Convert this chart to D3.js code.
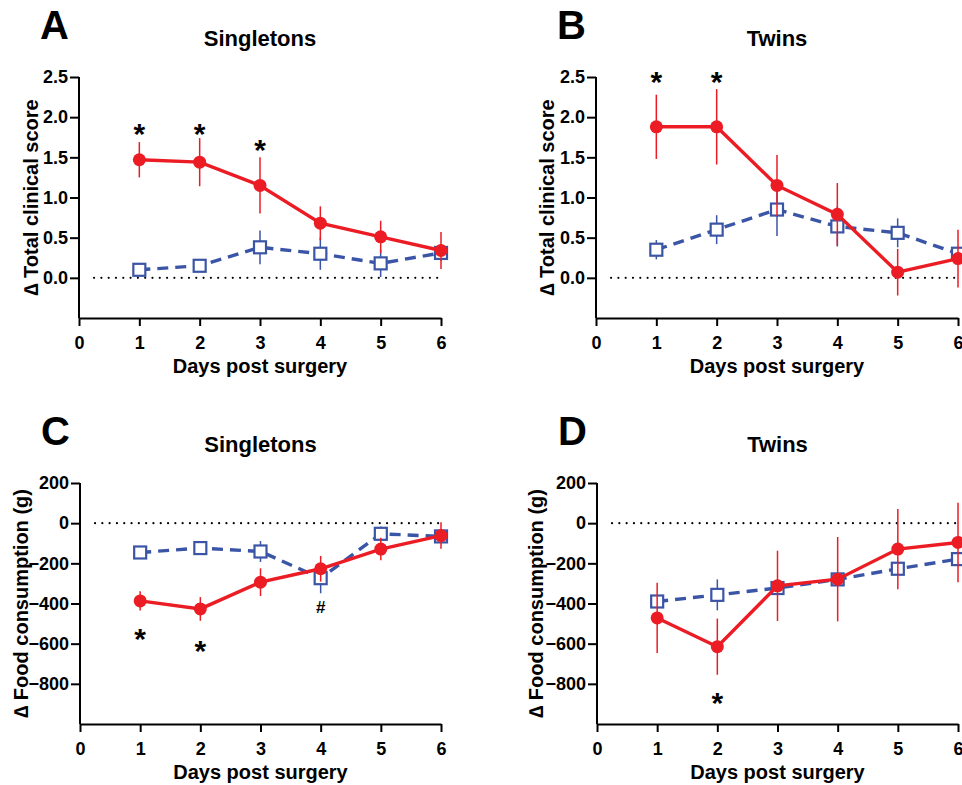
<!DOCTYPE html>
<html>
<head>
<meta charset="utf-8">
<script src="https://cdn.jsdelivr.net/npm/d3@7"></script>
<style>
  body { margin: 0; background: #fff; }
  svg { display: block; font-family: 'Liberation Sans', Arial, sans-serif; }
</style>
</head>
<body>
<div id="fig"></div>
<script>
// values
// -----------------------------------------------
const days = [1, 2, 3, 4, 5, 6];
const xTicks = [0, 1, 2, 3, 4, 5, 6];

const scoreTicks = [0, 0.5, 1, 1.5, 2, 2.5];
const foodTicks = [-800, -600, -400, -200, 0, 200];

// A: singletons, clinical score
const scoreSingRed = [1.47, 1.44, 1.15, 0.68, 0.51, 0.34];
const scoreSingRedErr = [0.22, 0.3, 0.35, 0.21, 0.2, 0.23];
const scoreSingBlue = [0.1, 0.15, 0.38, 0.3, 0.18, 0.31];
const scoreSingBlueErr = [0.03, 0.05, 0.21, 0.2, 0.17, 0.1];

// B: twins, clinical score
const scoreTwinRed = [1.88, 1.88, 1.15, 0.79, 0.07, 0.24];
const scoreTwinRedErr = [0.4, 0.47, 0.38, 0.39, 0.29, 0.36];
const scoreTwinBlue = [0.35, 0.6, 0.85, 0.64, 0.56, 0.3];
const scoreTwinBlueErr = [0.12, 0.18, 0.33, 0.25, 0.18, 0.08];

// C: singletons, food consumption
const foodSingRed = [-387, -427, -294, -227, -129, -62];
const foodSingRedErr = [48, 59, 69, 64, 56, 66];
const foodSingBlue = [-146, -124, -141, -274, -53, -66];
const foodSingBlueErr = [20, 25, 52, 75, 36, 30];

// D: twins, food consumption
const foodTwinRed = [-472, -615, -312, -279, -129, -96];
const foodTwinRedErr = [175, 140, 175, 210, 200, 198];
const foodTwinBlue = [-390, -357, -323, -280, -227, -179];
const foodTwinBlueErr = [25, 77, 30, 30, 30, 30];

// significance marks: [day, y value, symbol]
const marksA = [[1, 1.88, '*'], [2, 1.88, '*'], [3, 1.67, '*']];
const marksB = [[1, 2.52, '*'], [2, 2.52, '*']];
const marksC = [[1, -545, '*'], [2, -605, '*'], [4, -415, '#']];
const marksD = [[2, -863, '*']];

// -----------------------------------------------
const red = '#ec1c24';
const blue = '#3b55a6';

const svg = d3.select('#fig').append('svg')
  .attr('width', 962)
  .attr('height', 785);

let panels = [
  { letter: 'A', title: 'Singletons', ylab: '\u2206 Total clinical score',
    box: [79, 441, 77, 318], ydom: [-0.5, 2.5], ticks: scoreTicks, fmt: d3.format('.1f'),
    red: scoreSingRed, redErr: scoreSingRedErr, blue: scoreSingBlue, blueErr: scoreSingBlueErr,
    marks: marksA, letterPos: [40, 39], titleY: 45.5, ylabX: 38, xlabY: 373 },
  { letter: 'B', title: 'Twins', ylab: '\u2206 Total clinical score',
    box: [596, 958, 77, 318], ydom: [-0.5, 2.5], ticks: scoreTicks, fmt: d3.format('.1f'),
    red: scoreTwinRed, redErr: scoreTwinRedErr, blue: scoreTwinBlue, blueErr: scoreTwinBlueErr,
    marks: marksB, letterPos: [557, 39], titleY: 45.5, ylabX: 554, xlabY: 373 },
  { letter: 'C', title: 'Singletons', ylab: '\u2206 Food consumption (g)',
    box: [80, 441, 483, 724], ydom: [-1000, 200], ticks: foodTicks, fmt: d3.format('d'),
    red: foodSingRed, redErr: foodSingRedErr, blue: foodSingBlue, blueErr: foodSingBlueErr,
    marks: marksC, letterPos: [41, 445], titleY: 452, ylabX: 28, xlabY: 779 },
  { letter: 'D', title: 'Twins', ylab: '\u2206 Food consumption (g)',
    box: [597, 958, 483, 724], ydom: [-1000, 200], ticks: foodTicks, fmt: d3.format('d'),
    red: foodTwinRed, redErr: foodTwinRedErr, blue: foodTwinBlue, blueErr: foodTwinBlueErr,
    marks: marksD, letterPos: [558, 445], titleY: 452, ylabX: 543, xlabY: 779 },
];

let drawSeries = (g, x, y, vals, errs, color, filled) => {
  const pts = days.map((d, i) => ({ day: d, v: vals[i], e: errs[i] }));

  g.append('path')
    .datum(pts)
    .attr('fill', 'none')
    .attr('stroke', color)
    .attr('stroke-width', 3.4)
    .attr('stroke-dasharray', filled ? null : '11,7')
    .attr('d', d3.line().x((d) => x(d.day)).y((d) => y(d.v)));

  g.append('g')
    .selectAll('line')
    .data(pts)
    .join('line')
    .attr('x1', (d) => x(d.day))
    .attr('x2', (d) => x(d.day))
    .attr('y1', (d) => y(d.v + d.e))
    .attr('y2', (d) => y(d.v - d.e))
    .attr('stroke', color)
    .attr('stroke-width', 1.5);

  if (filled) {
    g.append('g')
      .selectAll('circle')
      .data(pts)
      .join('circle')
      .attr('cx', (d) => x(d.day))
      .attr('cy', (d) => y(d.v))
      .attr('r', 6.5)
      .attr('fill', color);
  } else {
    g.append('g')
      .selectAll('rect')
      .data(pts)
      .join('rect')
      .attr('x', (d) => x(d.day) - 6)
      .attr('y', (d) => y(d.v) - 6)
      .attr('width', 12)
      .attr('height', 12)
      .attr('fill', '#fff')
      .attr('stroke', color)
      .attr('stroke-width', 2.2);
  }
};

panels.forEach((p) => {
  const [l, r, t, b] = p.box;
  const x = d3.scaleLinear().domain([0, 6]).range([l, r]);
  const y = d3.scaleLinear().domain(p.ydom).range([b, t]);
  const g = svg.append('g');

  // panel letter and title
  g.append('text')
    .attr('x', p.letterPos[0]).attr('y', p.letterPos[1])
    .attr('font-size', 40).attr('font-weight', 'bold')
    .text(p.letter);
  g.append('text')
    .attr('x', (l + r) / 2).attr('y', p.titleY)
    .attr('text-anchor', 'middle')
    .attr('font-size', 22).attr('font-weight', 'bold')
    .text(p.title);

  // dotted zero line
  g.append('line')
    .attr('x1', x(0.25)).attr('x2', x(6))
    .attr('y1', y(0)).attr('y2', y(0))
    .attr('stroke', '#000')
    .attr('stroke-width', 2.2)
    .attr('stroke-linecap', 'round')
    .attr('stroke-dasharray', '0,7.3');

  // axes
  const gx = g.append('g')
    .attr('transform', `translate(0,${b})`)
    .call(d3.axisBottom(x).tickValues(xTicks).tickFormat(d3.format('d')).tickSize(8).tickSizeOuter(0).tickPadding(10));
  const gy = g.append('g')
    .attr('transform', `translate(${l},0)`)
    .call(d3.axisLeft(y).tickValues(p.ticks).tickFormat(p.fmt).tickSize(9).tickSizeOuter(0).tickPadding(2));
  // y axis line only spans to the top tick
  gy.select('.domain').attr('d', `M0,${b}V${t}`);

  [gx, gy].forEach((a) => {
    a.selectAll('path, line').attr('stroke', '#000').attr('stroke-width', 2);
    a.selectAll('text')
      .attr('fill', '#000')
      .attr('font-size', 18)
      .attr('font-weight', 'bold')
      .attr('font-family', "'Liberation Sans', Arial, sans-serif");
  });

  // axis titles
  g.append('text')
    .attr('x', (l + r) / 2).attr('y', p.xlabY)
    .attr('text-anchor', 'middle')
    .attr('font-size', 20).attr('font-weight', 'bold')
    .text('Days post surgery');
  g.append('text')
    .attr('transform', `translate(${p.ylabX},${(t + b) / 2}) rotate(-90)`)
    .attr('text-anchor', 'middle')
    .attr('font-size', 20).attr('font-weight', 'bold')
    .text(p.ylab);

  // series: control (blue, open squares) then treated (red, filled circles)
  drawSeries(g.append('g'), x, y, p.blue, p.blueErr, blue, false);
  drawSeries(g.append('g'), x, y, p.red, p.redErr, red, true);

  // significance marks
  g.append('g')
    .selectAll('text')
    .data(p.marks)
    .join('text')
    .attr('x', (d) => x(d[0]))
    .attr('y', (d) => y(d[1]))
    .attr('dy', (d) => (d[2] === '*' ? '0.56em' : '0.36em'))
    .attr('text-anchor', 'middle')
    .attr('font-size', (d) => (d[2] === '*' ? 30 : 17))
    .attr('font-weight', 'bold')
    .text((d) => d[2]);
});
</script>
</body>
</html>
